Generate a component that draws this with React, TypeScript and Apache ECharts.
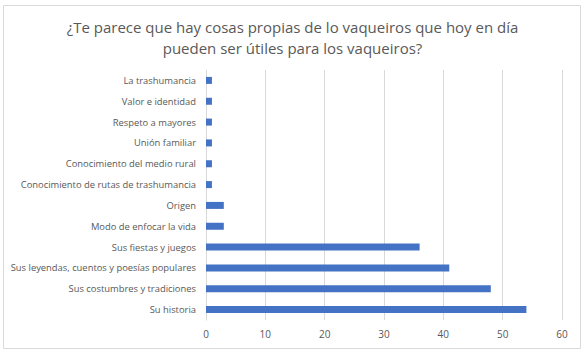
import React, { useEffect, useRef } from "react";
import * as echarts from "echarts";

const categories = [
  "Su historia",
  "Sus costumbres y tradiciones",
  "Sus leyendas, cuentos y poesías populares",
  "Sus fiestas y juegos",
  "Modo de enfocar la vida",
  "Origen",
  "Conocimiento de rutas de trashumancia",
  "Conocimiento del medio rural",
  "Unión familiar",
  "Respeto a mayores",
  "Valor e identidad",
  "La trashumancia",
];
const values = [54, 48, 41, 36, 3, 3, 1, 1, 1, 1, 1, 1];
const titleLines = [
  "¿Te parece que hay cosas propias de lo vaqueiros que hoy en día",
  "pueden ser útiles para los vaqueiros?",
];

export default function App() {
  const ref = useRef<HTMLDivElement>(null);
  useEffect(() => {
    const chart = echarts.init(ref.current!, null, { renderer: "svg" });
    chart.setOption({
      animation: false,
      backgroundColor: "#ffffff",
      textStyle: { fontFamily: "Open Sans" },
      title: {
        text: titleLines.join("\n"),
        left: "center",
        top: 11,
        textStyle: {
          fontFamily: "Open Sans",
          fontSize: 15,
          fontWeight: "normal",
          color: "#595959",
          lineHeight: 21,
        },
      },
      graphic: [
        {
          type: "rect",
          shape: { x: 3.5, y: 5.5, width: 577, height: 343 },
          style: { fill: "none", stroke: "#d9d9d9", lineWidth: 1 },
          silent: true,
        },
      ],
      grid: { left: 206, right: 23, top: 70, bottom: 39 },
      xAxis: {
        type: "value",
        min: 0,
        max: 60,
        interval: 10,
        axisLine: { show: false },
        axisTick: { show: false },
        axisLabel: { color: "#595959", fontSize: 10, margin: 9, fontFamily: "Open Sans" },
        splitLine: { lineStyle: { color: "#d9d9d9", width: 1 } },
      },
      yAxis: {
        type: "category",
        data: categories,
        axisLine: { show: true, lineStyle: { color: "#d9d9d9" } },
        axisTick: { show: false },
        axisLabel: { color: "#595959", fontSize: 9.4, margin: 10, fontFamily: "Open Sans" },
      },
      series: [
        {
          type: "bar",
          data: values,
          barWidth: 7,
          itemStyle: { color: "#4472C4" },
        },
      ],
    });
    return () => chart.dispose();
  }, []);
  return <div ref={ref} style={{ width: 585, height: 359, position: "absolute", left: 0, top: 0 }} />;
}
